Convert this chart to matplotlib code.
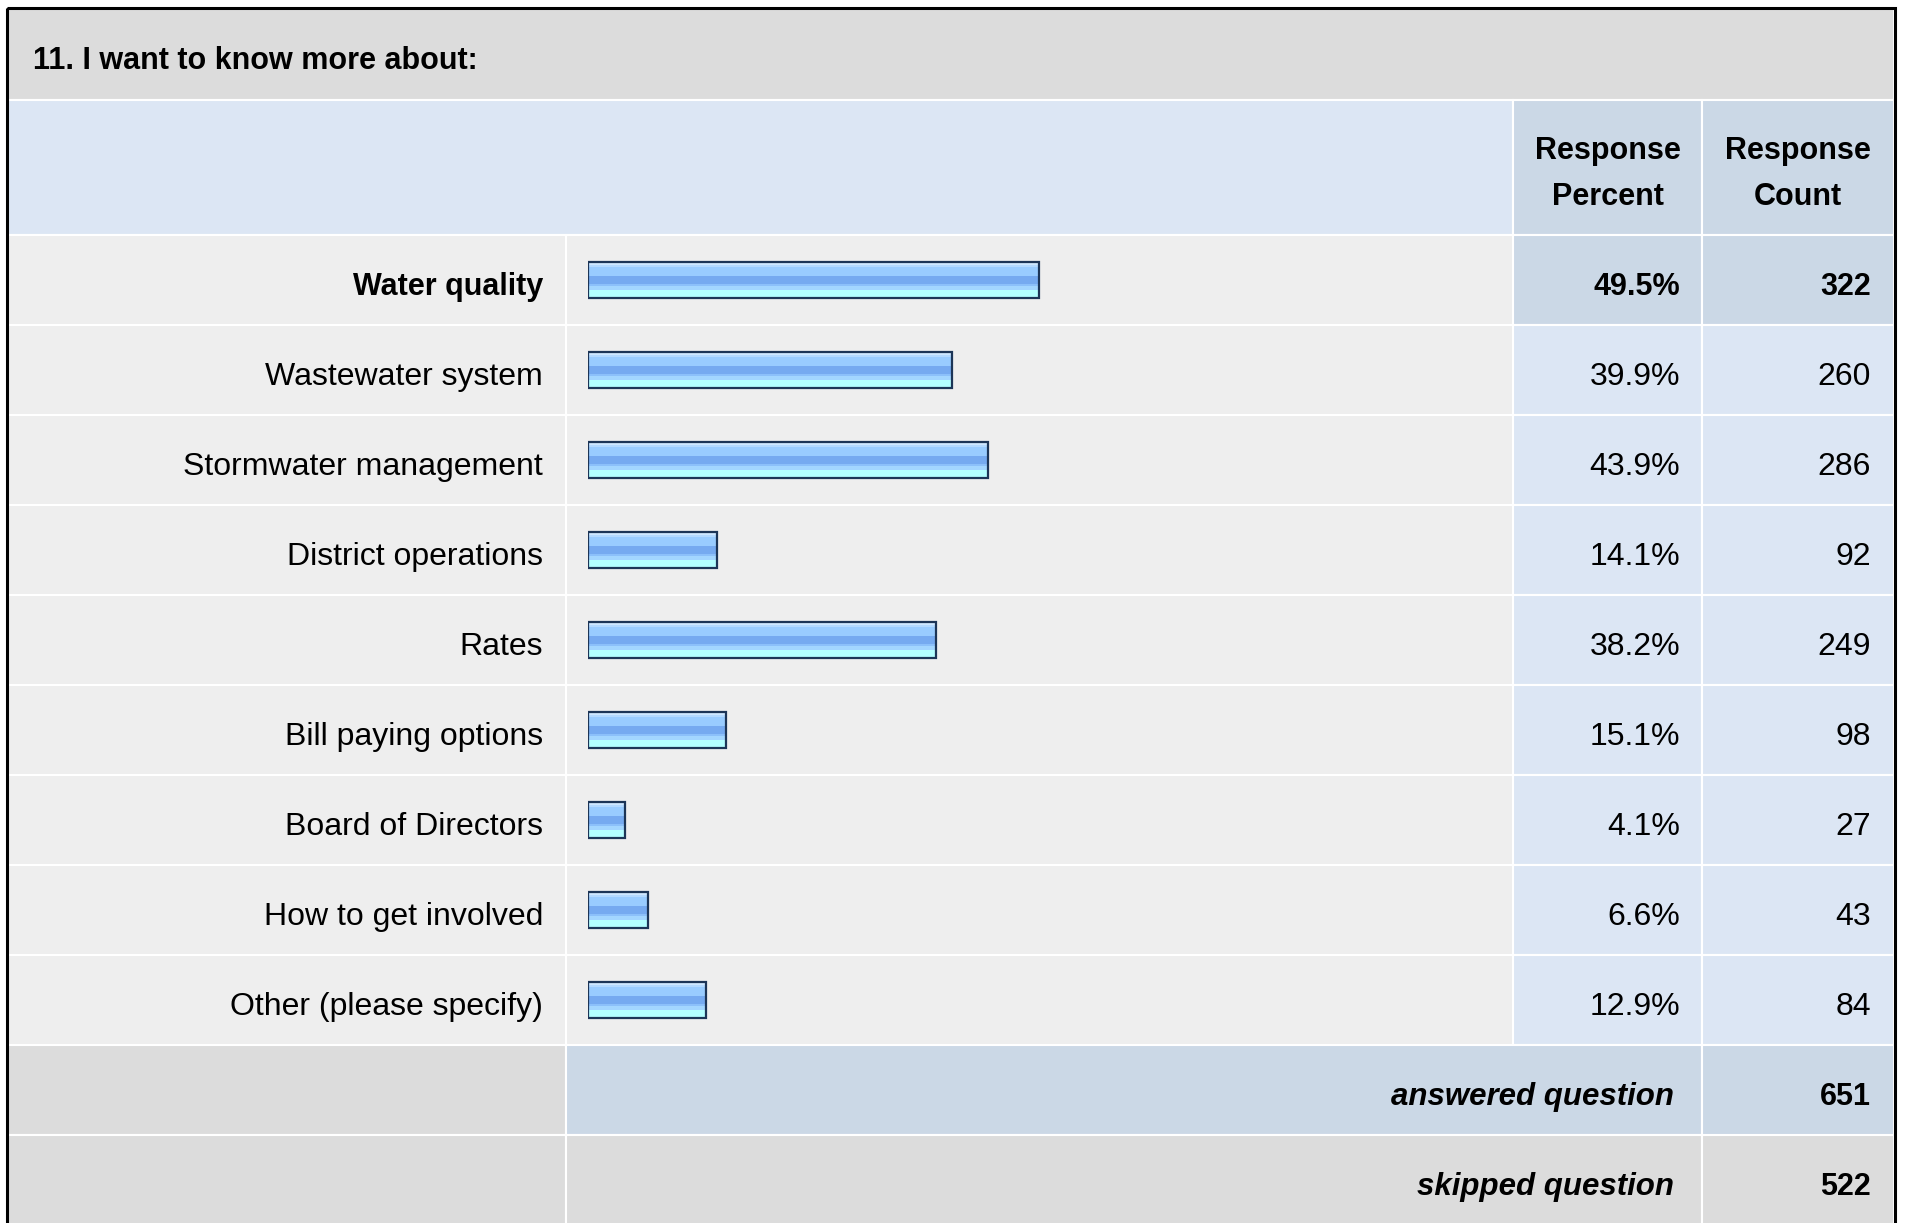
import matplotlib.pyplot as plt
from matplotlib.patches import Rectangle

# donnees du sondage
question = "11. I want to know more about:"
categories = ["Water quality", "Wastewater system", "Stormwater management",
              "District operations", "Rates", "Bill paying options",
              "Board of Directors", "How to get involved", "Other (please specify)"]
percents = [49.5, 39.9, 43.9, 14.1, 38.2, 15.1, 4.1, 6.6, 12.9]
counts = [322, 260, 286, 92, 249, 98, 27, 43, 84]
summary_labels = ["answered question", "skipped question"]
summary_counts = [651, 522]
col_headers = ["Response\nPercent", "Response\nCount"]

# mise en page (pixels)
W, H = 1907, 1223
X_LEFT, X_BAR, X_PCT, X_CNT, X_RIGHT = 8, 566, 1513, 1702, 1894
Y_TITLE, Y_HEAD, Y_ROWS, ROW_H = 9, 100, 235, 90
BAR_X0, BAR_SCALE = 588, 9.12  # px par %

GREY, HEAD_BLUE, ROW_BG, DARK_BLUE = "#dcdcdc", "#dce6f4", "#eeeeee", "#cbd8e6"
FS_B, FS_R = 22, 23

plt.rcParams['font.family'] = ['Liberation Sans', 'DejaVu Sans']

fig = plt.figure(figsize=(W / 100, H / 100), dpi=100)
ax = fig.add_axes([0, 0, 1, 1])
ax.set_xlim(0, W)
ax.set_ylim(H, 0)
ax.axis('off')


def cell(x0, y0, x1, y1, color):
    ax.add_patch(Rectangle((x0, y0), x1 - x0, y1 - y0, facecolor=color,
                           edgecolor='white', lw=1.5))


# bandeau titre
cell(X_LEFT, Y_TITLE, X_RIGHT, Y_HEAD, GREY)
ax.text(33, 69, question, fontsize=FS_B, fontweight='bold', va='baseline')

# en-tetes
cell(X_LEFT, Y_HEAD, X_PCT, Y_ROWS, HEAD_BLUE)
for (x0, x1), txt in zip([(X_PCT, X_CNT), (X_CNT, X_RIGHT)], col_headers):
    cell(x0, Y_HEAD, x1, Y_ROWS, DARK_BLUE)
    l1, l2 = txt.split("\n")
    xc = (x0 + x1) / 2
    ax.text(xc, 159, l1, fontsize=FS_B, fontweight='bold', ha='center', va='baseline')
    ax.text(xc, 205, l2, fontsize=FS_B, fontweight='bold', ha='center', va='baseline')

# lignes de donnees
for i, (cat, p, c) in enumerate(zip(categories, percents, counts)):
    y0 = Y_ROWS + i * ROW_H
    y1 = y0 + ROW_H
    yb = (y0 + y1) / 2 + 15
    first = i == 0
    fw = 'bold' if first else 'normal'
    fs = FS_B if first else FS_R
    cell(X_LEFT, y0, X_BAR, y1, ROW_BG)
    cell(X_BAR, y0, X_PCT, y1, ROW_BG)
    cell(X_PCT, y0, X_CNT, y1, DARK_BLUE if first else HEAD_BLUE)
    cell(X_CNT, y0, X_RIGHT, y1, DARK_BLUE if first else HEAD_BLUE)
    ax.text(543, yb, cat, fontsize=fs, fontweight=fw, ha='right', va='baseline')
    ax.text(1680, yb, f"{p:.1f}%", fontsize=fs, fontweight=fw, ha='right', va='baseline')
    ax.text(1871, yb, str(c), fontsize=fs, fontweight=fw, ha='right', va='baseline')

# lignes de synthese
y_sum = Y_ROWS + len(categories) * ROW_H
for j, (lab, c) in enumerate(zip(summary_labels, summary_counts)):
    y0 = y_sum + j * ROW_H
    y1 = y0 + ROW_H
    yb = (y0 + y1) / 2 + 15
    col = DARK_BLUE if j == 0 else GREY
    cell(X_LEFT, y0, X_BAR, y1, GREY)
    cell(X_BAR, y0, X_CNT, y1, col)
    cell(X_CNT, y0, X_RIGHT, y1 + 20, col)
    ax.text(1674, yb, lab, fontsize=22.5, fontweight='bold', style='italic',
            ha='right', va='baseline')
    ax.text(1871, yb, str(c), fontsize=FS_B, fontweight='bold', ha='right', va='baseline')

# cadre noir
ax.add_patch(Rectangle((7, 8), 1888, 1300, fill=False, edgecolor='black', lw=2.2, zorder=10))

# barres (axe en %)
n = len(categories)
ax_bar = fig.add_axes([BAR_X0 / W, 1 - (Y_ROWS + n * ROW_H) / H,
                       100 * BAR_SCALE / W, n * ROW_H / H])
ax_bar.set_xlim(0, 100)
ax_bar.set_ylim(n - 0.5, -0.5)
ax_bar.axis('off')
ax_bar.patch.set_alpha(0)

bar_h = 0.4
# bandes horizontales du degrade (debut, fin, couleur), de haut en bas
stripes = [(0.00, 0.07, "#cfe8ff"), (0.07, 0.13, "#b3d9ff"), (0.13, 0.40, "#99ccff"),
           (0.40, 0.60, "#76aaf0"), (0.60, 0.68, "#8cc0fa"), (0.68, 0.78, "#a3d6ff"),
           (0.78, 1.00, "#b3ffff")]
ypos = list(range(n))
for f0, f1, colr in stripes:
    ax_bar.barh([y - bar_h / 2 + (f0 + f1) / 2 * bar_h for y in ypos], percents,
                height=(f1 - f0) * bar_h, color=colr, linewidth=0)
ax_bar.barh(ypos, percents, height=bar_h, fill=False, edgecolor="#1c3557", linewidth=1.6)

fig.savefig("out.png", dpi=100)
